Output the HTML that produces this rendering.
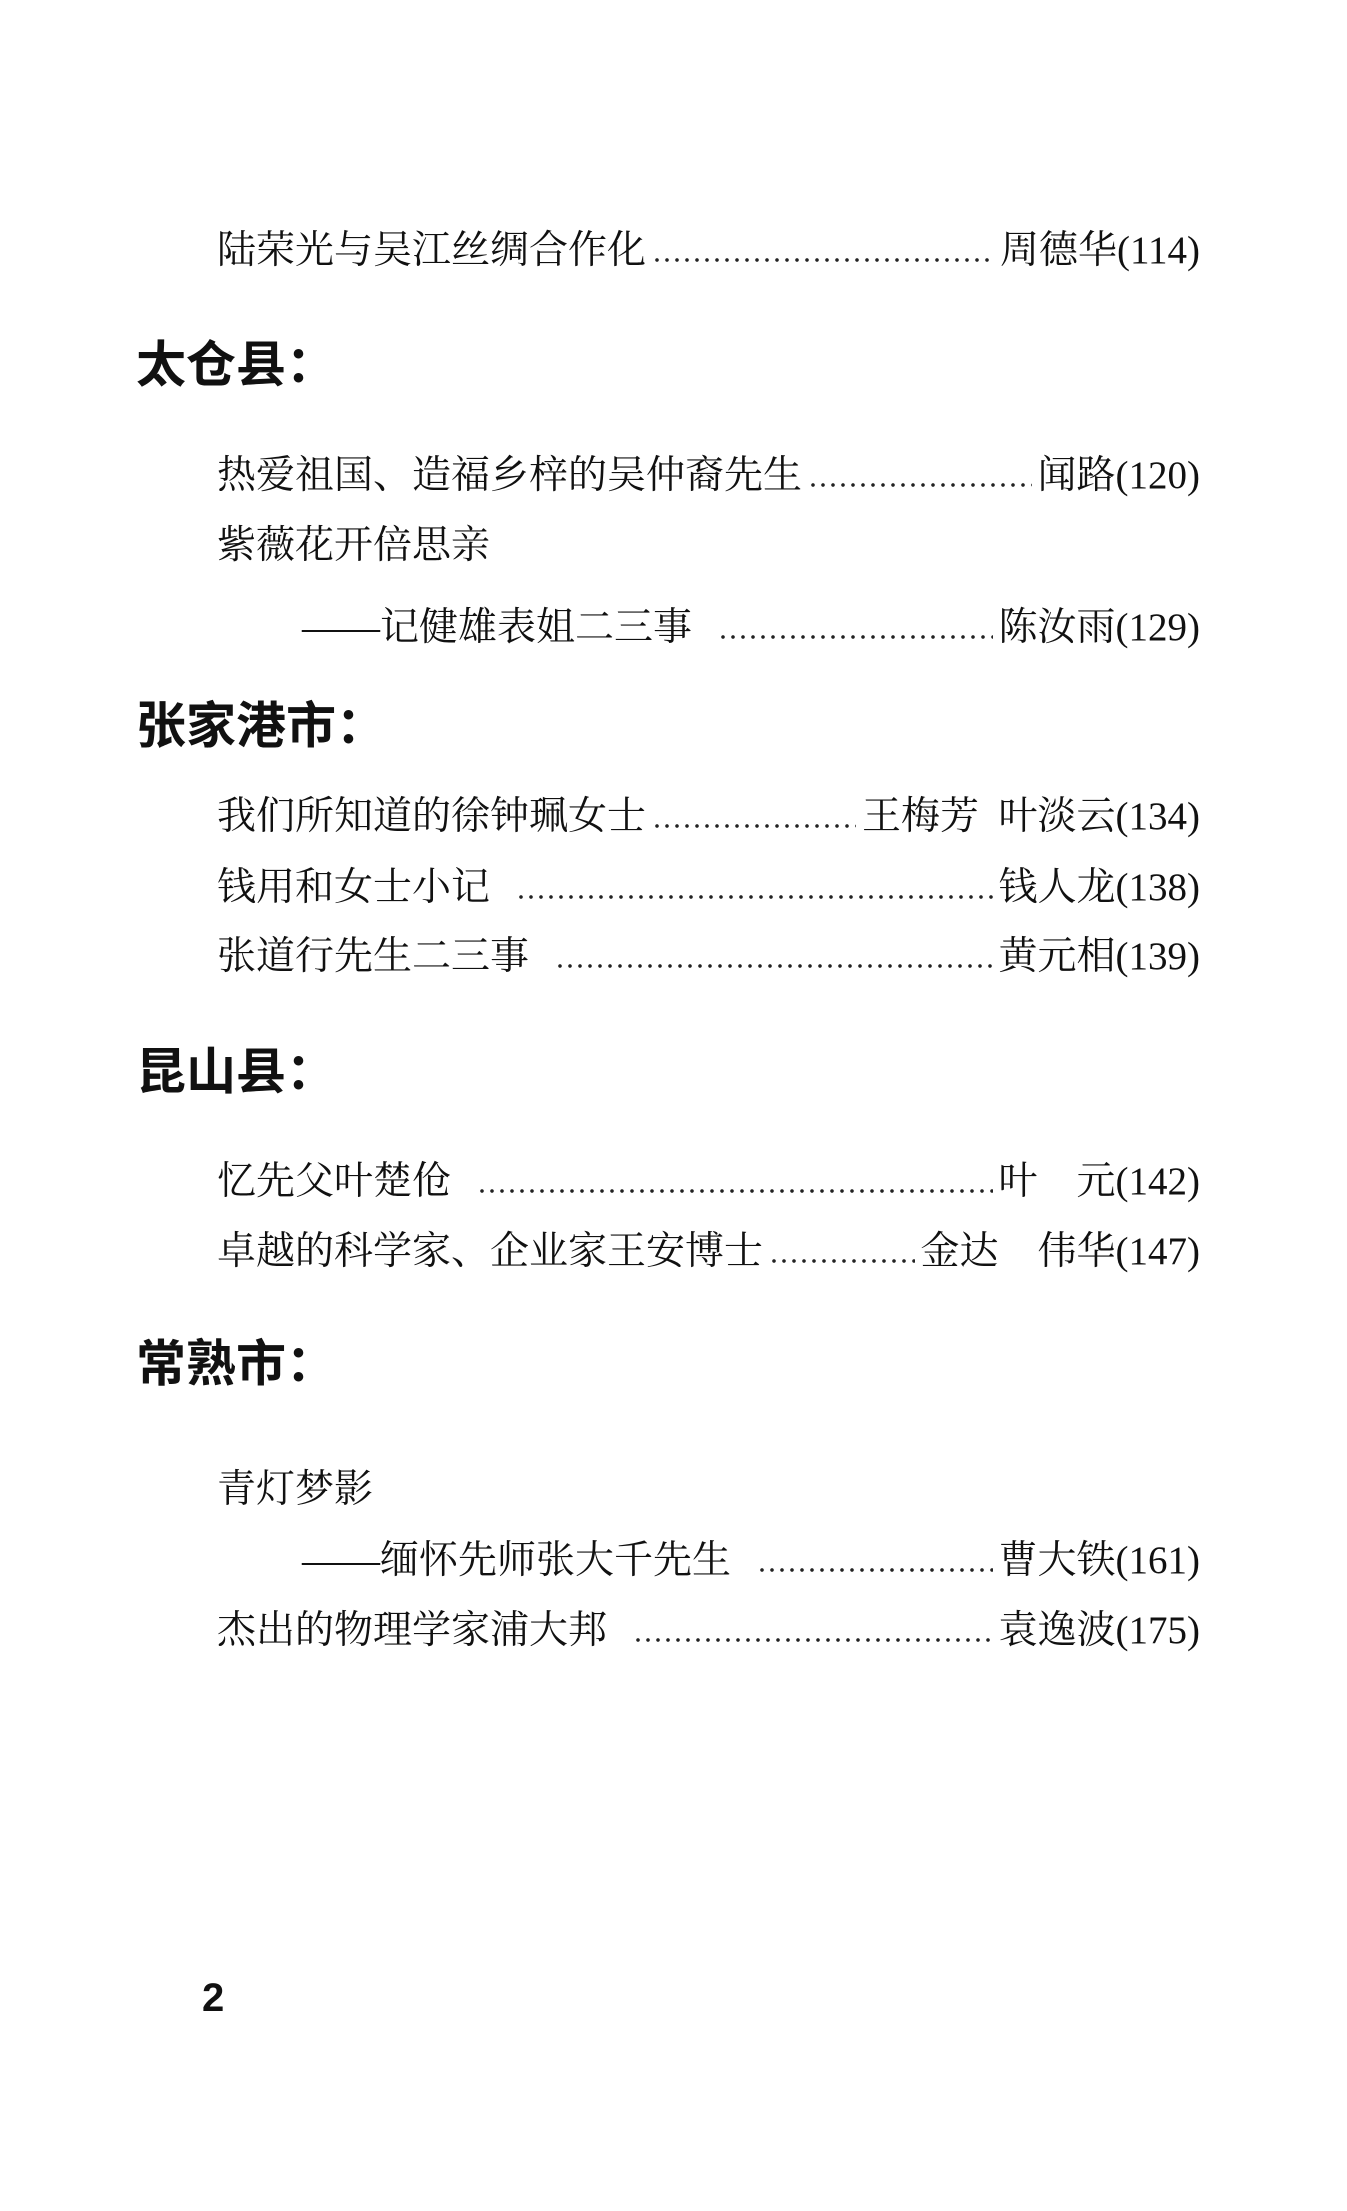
<!DOCTYPE html>
<html><head><meta charset="utf-8"><style>
html,body{margin:0;padding:0;background:#fff;}
body{width:1347px;height:2211px;position:relative;overflow:hidden;font-family:"Liberation Serif","Noto Serif CJK SC",serif;color:#111;}
.l{position:absolute;left:217px;right:147px;height:42px;display:flex;align-items:center;font-size:39px;line-height:42px;white-space:nowrap;}
.l .d{flex:1;height:4px;margin:0 6px;position:relative;top:9px;background-image:radial-gradient(circle,#222 1.6px,transparent 2px);background-size:10px 4px;background-repeat:repeat-x;}
.h{position:absolute;left:136px;font-family:"Liberation Sans","Noto Sans CJK SC",sans-serif;font-weight:bold;font-size:50px;line-height:56px;}
.s{position:absolute;left:217px;font-size:39px;line-height:42px;}
</style></head><body>
<div class="l" style="top:230px">陆荣光与吴江丝绸合作化<span class="d"></span>周德华(114)</div>
<div class="h" style="top:337px">太仓县：</div>
<div class="l" style="top:455px">热爱祖国、造福乡梓的吴仲裔先生<span class="d"></span>闻路(120)</div>
<div class="s" style="top:525px">紫薇花开倍思亲</div>
<div class="l" style="top:607px;left:302px">——记健雄表姐二三事<span class="d" style="margin-left:26px"></span>陈汝雨(129)</div>
<div class="h" style="top:698px">张家港市：</div>
<div class="l" style="top:796px">我们所知道的徐钟珮女士<span class="d"></span>王梅芳&nbsp;&nbsp;叶淡云(134)</div>
<div class="l" style="top:867px">钱用和女士小记<span class="d" style="margin-left:26px"></span>钱人龙(138)</div>
<div class="l" style="top:936px">张道行先生二三事<span class="d" style="margin-left:26px"></span>黄元相(139)</div>
<div class="h" style="top:1044px">昆山县：</div>
<div class="l" style="top:1161px">忆先父叶楚伧<span class="d" style="margin-left:26px"></span>叶&nbsp;&nbsp;&nbsp;&nbsp;元(142)</div>
<div class="l" style="top:1231px">卓越的科学家、企业家王安博士<span class="d"></span>金达&nbsp;&nbsp;&nbsp;&nbsp;伟华(147)</div>
<div class="h" style="top:1336px">常熟市：</div>
<div class="s" style="top:1469px">青灯梦影</div>
<div class="l" style="top:1540px;left:302px">——缅怀先师张大千先生<span class="d" style="margin-left:26px"></span>曹大铁(161)</div>
<div class="l" style="top:1610px">杰出的物理学家浦大邦<span class="d" style="margin-left:26px"></span>袁逸波(175)</div>
<div style="position:absolute;left:202px;top:1976px;font-family:'Liberation Sans',sans-serif;font-weight:900;font-size:40px;">2</div>
</body></html>
